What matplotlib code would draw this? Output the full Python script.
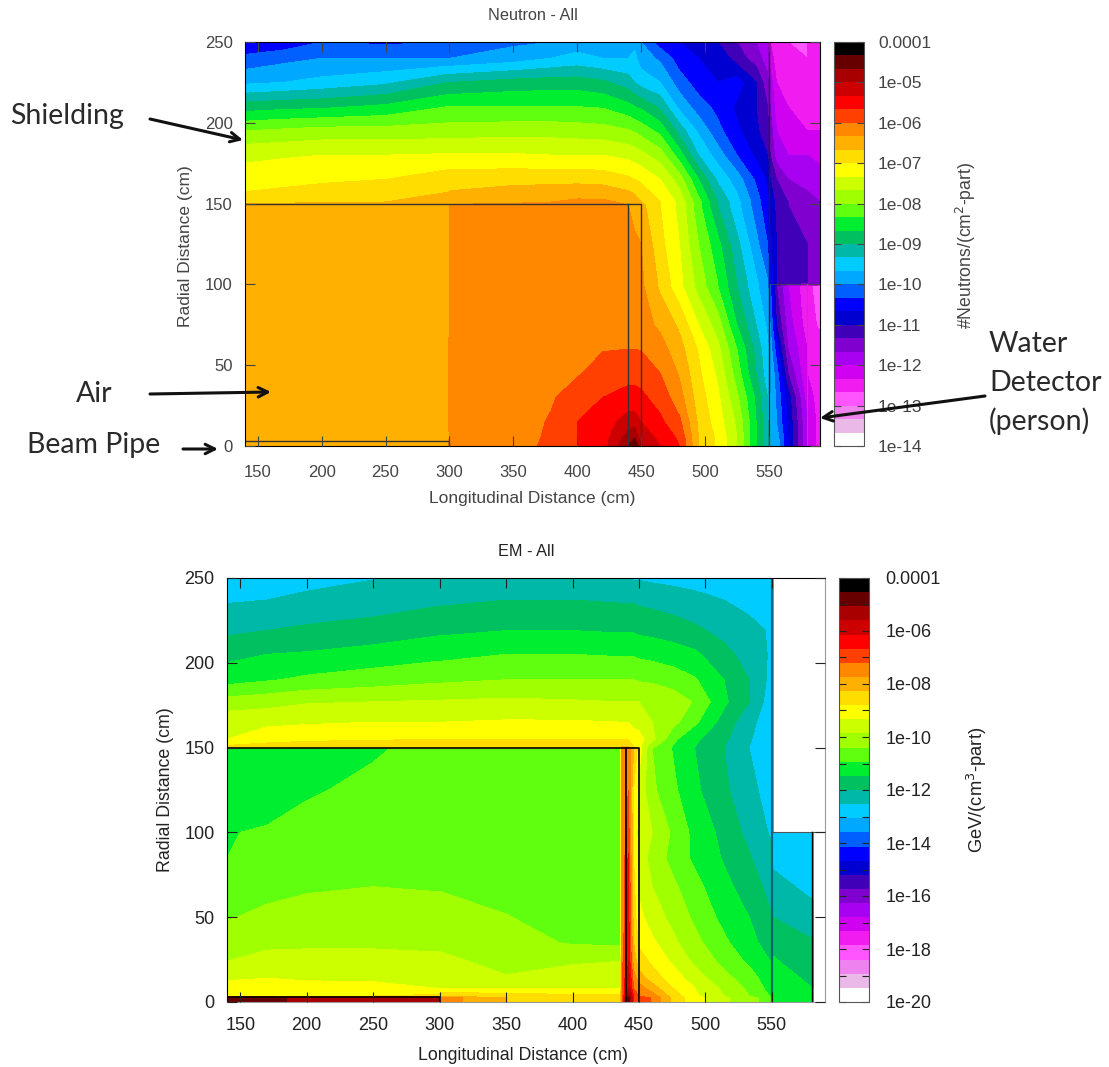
# plot.py - neutron and EM maps from the shielding study
import numpy as np
import matplotlib
matplotlib.use("Agg")
import matplotlib.pyplot as plt
from matplotlib.colors import ListedColormap, BoundaryNorm
from matplotlib.cm import ScalarMappable

plt.rcParams['font.family'] = ['Liberation Sans', 'DejaVu Sans']

W, H = 1109, 1067

# palette of 30 bands, low to high
band_colors = ['#ffffff', '#eab9e8', '#ee82ee', '#ff55ff', '#f01cf0', '#d000f0',
               '#a800f0', '#8000d0', '#4000b8', '#0000d0', '#0000ff', '#0060ff',
               '#00a8ff', '#00ccff', '#00b8a8', '#00c060', '#00ee30', '#60ff10',
               '#a0ff00', '#ccff00', '#ffff00', '#ffdd00', '#ffb000', '#ff8800',
               '#ff4000', '#ff0000', '#cc0000', '#a80000', '#660000', '#000000']

x_ticks = [150, 200, 250, 300, 350, 400, 450, 500, 550]
r_ticks = [0, 50, 100, 150, 200, 250]

# Neutron map, values are in colour band units (band k covers k..k+1)
n_x = [140, 170, 200, 250, 299, 301, 350, 380, 400, 420, 440, 445, 450, 465, 480,
       495, 510, 525, 540, 549, 551, 556, 565, 580, 590]
n_r = [0, 5, 15, 30, 45, 60, 75, 99, 101, 125, 149, 151, 165, 180, 195, 210, 225, 240, 250]
n_bands = [
    [22.5, 22.5, 22.5, 22.5, 23.0, 23.5, 23.5, 24.3, 25.0, 25.5, 28.0, 29.0, 27.0, 26.0, 25.0, 22.0, 20.8, 19.0, 16.0, 14.2, 13.0, 12.8, 10.0, 6.0, 4.5],
    [22.2, 22.5, 22.5, 22.5, 22.8, 23.3, 23.5, 24.2, 25.0, 25.5, 27.5, 28.0, 26.5, 25.8, 24.8, 22.0, 20.8, 19.0, 16.0, 14.2, 13.0, 12.5, 10.0, 6.0, 4.5],
    [22.4, 22.5, 22.5, 22.6, 22.9, 23.4, 23.5, 24.1, 25.0, 25.4, 26.5, 26.5, 26.0, 25.2, 24.2, 21.8, 20.5, 18.8, 16.0, 14.2, 13.0, 12.0, 9.8, 6.0, 4.5],
    [22.5, 22.5, 22.5, 22.7, 22.9, 23.4, 23.5, 23.9, 24.5, 25.0, 25.3, 25.3, 25.2, 24.6, 23.4, 21.5, 20.2, 18.2, 15.8, 14.0, 13.0, 11.8, 9.5, 5.5, 4.5],
    [22.5, 22.5, 22.5, 22.7, 22.9, 23.3, 23.5, 23.6, 23.9, 24.4, 24.7, 24.7, 24.6, 24.0, 22.9, 21.2, 19.8, 17.5, 15.0, 13.4, 12.8, 11.5, 8.0, 5.0, 4.5],
    [22.5, 22.5, 22.5, 22.7, 22.9, 23.3, 23.5, 23.5, 23.6, 23.95, 24.0, 24.0, 23.95, 23.4, 22.4, 20.9, 19.3, 17.0, 14.7, 13.2, 12.5, 10.5, 7.0, 5.0, 4.5],
    [22.5, 22.5, 22.5, 22.6, 22.8, 23.3, 23.5, 23.5, 23.5, 23.5, 23.5, 23.5, 23.4, 22.8, 21.8, 20.0, 18.5, 16.0, 14.0, 12.8, 12.0, 9.0, 6.5, 4.5, 3.8],
    [22.5, 22.5, 22.5, 22.6, 22.7, 23.3, 23.5, 23.5, 23.5, 23.5, 23.3, 23.3, 23.2, 21.8, 20.3, 18.6, 17.0, 15.0, 13.2, 12.1, 11.2, 8.0, 6.0, 4.3, 3.5],
    [22.5, 22.5, 22.5, 22.6, 22.7, 23.3, 23.5, 23.5, 23.5, 23.5, 23.3, 23.3, 23.2, 21.8, 20.3, 18.6, 17.0, 15.0, 13.2, 12.1, 10.5, 9.0, 8.5, 8.0, 8.0],
    [22.5, 22.5, 22.5, 22.5, 22.6, 23.3, 23.5, 23.5, 23.5, 23.4, 23.2, 23.1, 23.0, 21.3, 20.0, 18.0, 16.3, 14.3, 12.3, 11.0, 10.3, 9.0, 8.5, 8.0, 7.5],
    [22.5, 22.5, 22.5, 22.5, 22.5, 23.2, 23.3, 23.3, 23.3, 23.1, 23.0, 22.8, 22.3, 21.0, 19.7, 17.3, 15.0, 13.3, 11.5, 10.3, 9.5, 8.8, 8.0, 7.5, 7.0],
    [21.5, 21.7, 21.9, 22.0, 22.3, 22.4, 22.8, 23.0, 23.2, 23.2, 22.8, 22.5, 22.0, 21.0, 19.7, 17.3, 15.0, 13.3, 11.5, 10.3, 9.5, 8.8, 8.0, 7.5, 7.0],
    [20.4, 20.6, 20.8, 21.0, 21.6, 21.6, 21.7, 21.7, 21.7, 21.6, 21.2, 21.0, 20.8, 20.0, 18.5, 16.0, 13.8, 12.5, 10.8, 9.8, 9.0, 8.0, 7.0, 6.5, 6.3],
    [19.8, 19.9, 20.0, 20.0, 20.1, 20.1, 20.1, 20.0, 20.0, 20.0, 19.7, 19.5, 19.3, 18.5, 16.5, 14.0, 12.5, 11.0, 9.8, 9.0, 8.0, 6.5, 6.0, 6.0, 5.8],
    [18.0, 18.2, 18.4, 18.4, 18.5, 18.5, 18.6, 18.6, 18.5, 18.4, 18.1, 17.9, 17.6, 16.7, 14.6, 12.8, 11.3, 10.2, 9.2, 8.3, 7.5, 6.0, 5.5, 5.0, 5.0],
    [15.5, 15.7, 15.8, 16.2, 17.0, 17.0, 17.0, 17.0, 17.0, 16.9, 16.3, 16.0, 15.8, 14.8, 12.7, 11.5, 10.7, 9.8, 9.0, 8.0, 7.0, 5.5, 5.0, 4.5, 4.8],
    [12.8, 13.0, 13.3, 13.8, 15.0, 15.0, 15.4, 15.5, 15.5, 15.2, 14.5, 14.0, 13.6, 13.0, 11.5, 10.5, 10.0, 10.5, 9.0, 7.3, 6.5, 5.0, 4.5, 4.5, 4.5],
    [11.3, 11.7, 12.0, 12.0, 12.0, 12.0, 12.5, 13.0, 13.3, 13.0, 13.0, 13.2, 12.5, 11.8, 10.5, 10.0, 9.8, 8.5, 7.5, 6.5, 5.5, 4.5, 4.3, 4.0, 4.2],
    [10.0, 10.3, 11.0, 10.8, 11.0, 11.0, 11.8, 12.0, 12.5, 12.0, 13.0, 12.8, 12.0, 10.5, 10.0, 9.5, 9.0, 8.0, 7.0, 6.0, 5.0, 4.5, 4.0, 4.0, 4.3],
]

# EM map, main region up to the wall at 550
em_x = [140, 170, 200, 250, 299, 301, 350, 400, 436, 437, 442, 446, 450, 460, 476,
        492, 514, 533, 551]
em_r = [0, 2.5, 3.5, 8, 14, 24, 35, 50, 68, 85, 100, 125, 149.5, 150.5, 155, 165, 177,
        190, 205, 219, 237, 250]
em_bands = [
    [28.5, 28.5, 27.5, 27.5, 27.5, 23.5, 22.0, 21.5, 21.5, 23.5, 29.0, 25.0, 24.5, 23.9, 21.7, 20.4, 19.2, 18.3, 17.5],
    [28.5, 28.5, 27.5, 27.5, 27.5, 23.5, 22.0, 21.5, 21.5, 23.5, 29.0, 25.0, 24.5, 23.9, 21.7, 20.4, 19.2, 18.3, 17.5],
    [21.0, 21.0, 21.0, 21.0, 21.3, 22.0, 21.5, 21.3, 21.3, 23.5, 28.0, 25.0, 24.0, 23.5, 21.5, 20.2, 19.0, 18.0, 16.8],
    [20.3, 20.2, 20.3, 20.2, 20.0, 20.0, 20.0, 20.0, 20.0, 23.5, 27.0, 24.0, 23.5, 22.5, 21.0, 20.0, 18.8, 17.8, 16.5],
    [19.9, 20.0, 19.9, 19.9, 19.7, 19.7, 19.1, 19.4, 19.6, 23.5, 26.5, 23.5, 22.5, 21.5, 20.5, 19.5, 18.3, 17.5, 16.2],
    [19.0, 19.3, 19.4, 19.4, 19.3, 19.3, 18.6, 18.9, 19.0, 23.5, 26.0, 22.5, 21.5, 20.8, 19.8, 18.8, 17.7, 16.8, 15.9],
    [18.7, 18.8, 18.8, 18.8, 18.7, 18.7, 18.4, 17.9, 17.8, 23.3, 25.5, 22.0, 20.8, 20.2, 19.2, 18.3, 17.2, 16.3, 15.5],
    [17.9, 18.3, 18.5, 18.6, 18.5, 18.5, 18.05, 17.5, 17.4, 23.0, 25.5, 21.5, 20.3, 19.5, 18.7, 17.8, 16.7, 16.0, 15.0],
    [17.4, 17.6, 17.85, 18.0, 17.9, 17.9, 17.6, 17.4, 17.3, 23.0, 25.3, 21.3, 19.8, 19.0, 18.2, 17.3, 16.3, 15.5, 14.6],
    [17.0, 17.3, 17.4, 17.4, 17.4, 17.4, 17.4, 17.4, 17.4, 23.0, 25.1, 21.0, 19.5, 18.7, 17.6, 16.8, 15.9, 15.1, 14.2],
    [16.95, 17.1, 17.3, 17.4, 17.4, 17.4, 17.4, 17.4, 17.4, 23.0, 24.5, 21.0, 19.4, 19.0, 17.8, 16.7, 15.7, 14.7, 13.8],
    [16.3, 16.5, 16.9, 17.2, 17.4, 17.4, 17.5, 17.5, 17.5, 23.0, 24.0, 21.0, 19.7, 18.2, 17.2, 16.2, 15.2, 14.3, 13.5],
    [16.3, 16.4, 16.5, 16.9, 17.3, 17.3, 17.5, 17.5, 17.5, 23.0, 23.8, 22.0, 20.5, 18.0, 16.9, 16.0, 15.0, 14.0, 13.0],
    [21.2, 21.5, 22.0, 22.0, 22.0, 22.0, 22.0, 22.0, 22.0, 22.0, 22.0, 21.0, 20.3, 18.2, 16.9, 16.0, 15.0, 14.0, 13.0],
    [20.0, 20.5, 20.6, 20.8, 21.0, 21.0, 21.0, 21.0, 21.0, 21.0, 21.0, 20.5, 20.4, 19.3, 17.2, 16.2, 15.2, 14.1, 13.2],
    [19.7, 19.8, 19.9, 20.0, 20.0, 20.0, 20.1, 20.1, 20.0, 20.0, 20.0, 19.7, 19.6, 19.0, 18.3, 17.2, 15.6, 14.3, 13.3],
    [18.4, 18.6, 18.9, 19.0, 19.1, 19.1, 19.2, 19.1, 19.0, 19.0, 19.0, 19.0, 19.0, 19.0, 18.6, 17.9, 16.2, 15.0, 13.3],
    [16.6, 16.9, 17.2, 17.5, 17.8, 17.8, 18.0, 18.0, 18.0, 18.0, 18.0, 18.0, 17.9, 17.8, 17.5, 17.1, 16.0, 15.0, 13.6],
    [15.7, 16.0, 16.1, 16.4, 16.7, 16.7, 17.0, 17.0, 16.9, 16.9, 16.9, 16.9, 16.8, 16.7, 16.5, 16.2, 15.3, 14.6, 13.8],
    [14.8, 15.0, 15.2, 15.4, 15.8, 15.8, 16.0, 16.0, 15.9, 15.9, 15.9, 15.9, 15.8, 15.7, 15.5, 15.2, 14.7, 14.2, 13.9],
    [13.9, 14.0, 14.2, 14.5, 14.8, 14.8, 15.0, 15.0, 14.9, 14.9, 14.9, 14.9, 14.8, 14.7, 14.5, 14.3, 14.0, 13.8, 13.6],
    [13.5, 13.6, 13.7, 13.95, 14.2, 14.2, 14.3, 14.3, 14.0, 14.0, 13.95, 13.9, 13.9, 13.8, 13.7, 13.6, 13.5, 13.4, 13.2],
]

# EM map, water detector behind the wall
det_x = [551, 581]
det_r = [0, 8, 27, 37, 50, 60, 78, 100]
det_bands = [
    [16.9, 16.2],
    [16.6, 16.0],
    [16.0, 15.3],
    [15.5, 15.0],
    [15.0, 14.6],
    [14.7, 14.0],
    [14.0, 13.5],
    [13.5, 13.4],
]

n_cbar_labels = ['1e-14', '1e-13', '1e-12', '1e-11', '1e-10', '1e-09', '1e-08',
                 '1e-07', '1e-06', '1e-05', '0.0001']
em_cbar_labels = ['1e-20', '', '1e-18', '', '1e-16', '', '1e-14', '', '1e-12', '',
                  '1e-10', '', '1e-08', '', '1e-06', '', '0.0001']

cmap = ListedColormap(band_colors)


def px_rect(left, top, right, bottom):
    return [left / W, 1 - bottom / H, (right - left) / W, (bottom - top) / H]


def setup_map(ax, title, fs, lab_fs, tcol, xpad, xlab_pad, xlab_x, ylab_xy):
    ax.set_xlim(140, 590)
    ax.set_ylim(0, 250)
    ax.set_xticks(x_ticks)
    ax.set_yticks(r_ticks)
    ax.tick_params(direction='in', top=True, right=True, length=7, width=0.8,
                   labelsize=fs, colors=tcol)
    ax.tick_params(axis='x', pad=xpad)
    ax.tick_params(axis='y', pad=9)
    ax.set_title(title, fontsize=11.7, color=tcol, pad=16)
    ax.set_xlabel("Longitudinal Distance (cm)", fontsize=lab_fs, color=tcol,
                  labelpad=xlab_pad, x=xlab_x)
    ax.set_ylabel("Radial Distance (cm)", fontsize=lab_fs, color=tcol)
    ax.yaxis.set_label_coords(*ylab_xy)
    ax.set_axisbelow(False)


def add_cbar(fig, rect, exps, labels, cbar_title, fs, tcol, pad, title_x, title_y):
    levels = np.linspace(exps[0], exps[-1], len(band_colors) + 1)
    cax = fig.add_axes(px_rect(*rect))
    sm = ScalarMappable(norm=BoundaryNorm(levels, cmap.N), cmap=cmap)
    cb = fig.colorbar(sm, cax=cax, ticks=exps, spacing='proportional')
    cb.ax.set_yticklabels(labels)
    cb.ax.tick_params(which='both', direction='in', left=True, right=True, length=5,
                      width=0.8, labelsize=fs, colors=tcol, pad=pad)
    cb.ax.minorticks_off()
    cb.outline.set_edgecolor('#555555')
    fig.text(title_x / W, 1 - title_y / H, cbar_title, rotation=90, fontsize=fs + 0.2,
             color=tcol, ha='center', va='center')
    return levels


fig = plt.figure(figsize=(W / 100, H / 100), dpi=100)

# --- top panel
ax1 = fig.add_axes(px_rect(245, 42, 820, 446))
n_exps = list(range(-14, -3))
n_levels = add_cbar(fig, (834, 42, 864, 446), n_exps, n_cbar_labels,
                    "#Neutrons/(cm$^2$-part)", 12.5, '#444444', 10, 966, 245)
n_z = -14 + np.array(n_bands) / 3.0
ax1.contourf(n_x, n_r, n_z, levels=n_levels, cmap=cmap,
             norm=BoundaryNorm(n_levels, cmap.N), antialiased=False)
setup_map(ax1, "Neutron - All", 12, 12.5, '#444444', 14, 7.5, 0.5, (-0.09, 0.495))

# --- bottom panel
ax2 = fig.add_axes(px_rect(227, 578, 825, 1002))
em_exps = list(range(-20, -3))
em_levels = add_cbar(fig, (839, 578, 869, 1002), em_exps, em_cbar_labels,
                     "GeV/(cm$^3$-part)", 13, '#222222', 12, 977, 790)
em_z = -20 + np.array(em_bands) * 16 / 30.0
det_z = -20 + np.array(det_bands) * 16 / 30.0
em_norm = BoundaryNorm(em_levels, cmap.N)
ax2.contourf(em_x, em_r, em_z, levels=em_levels, cmap=cmap, norm=em_norm, antialiased=False)
ax2.contourf(det_x, det_r, det_z, levels=em_levels, cmap=cmap, norm=em_norm, antialiased=False)
setup_map(ax2, "EM - All", 13, 12.8, '#222222', 11, 9.5, 0.495, (-0.089, 0.502))

# geometry outlines
for ax, col, lw in [(ax1, '#333333', 1.0), (ax2, '#000000', 1.2)]:
    ax.plot([140, 450, 450], [150, 150, 0], color=col, lw=lw)
    ax.plot([440, 440], [0, 150], color=col, lw=lw)
    ax.plot([140, 300, 300], [3, 3, 0], color=col, lw=lw)
ax1.plot([550, 550], [0, 250], color='#222222', lw=1.0)
ax2.plot([550, 550], [0, 250], color='#00506a', lw=1.6, alpha=0.8)
ax1.plot([550, 590], [100, 100], color='#444444', lw=0.6)
ax1.plot([580, 580], [0, 100], color='#aa44aa', lw=0.8)
ax2.plot([550, 590], [100, 100], color='#555555', lw=0.8)
ax2.plot([580, 580], [0, 100], color='#000000', lw=1.0)

for side in ['right', 'bottom']:
    ax2.spines[side].set_color('#999999')

# hand notes on top of the upper plot
over = fig.add_axes([0, 0, 1, 1], zorder=10)
over.set_xlim(0, W)
over.set_ylim(H, 0)
over.axis('off')
notes = [("Shielding", 10, 116), ("Air", 76, 394), ("Beam Pipe", 27, 445),
         ("Water", 989, 344), ("Detector", 989, 383), ("(person)", 989, 421)]
for txt, nx, ny in notes:
    over.text(nx, ny, txt, family=['Lato', 'DejaVu Sans'], fontsize=20.5, color='#2a2a2a',
              ha='left', va='center')
arrows = [((150, 119), (243, 140)), ((150, 394), (271, 392)),
          ((183, 449), (218, 449)), ((985, 396), (820, 418))]
for start, end in arrows:
    over.annotate('', xy=end, xytext=start,
                  arrowprops=dict(arrowstyle='->', lw=2.2, color='#111111',
                                  mutation_scale=17, shrinkA=0, shrinkB=0))

fig.savefig("out.png", dpi=100)
